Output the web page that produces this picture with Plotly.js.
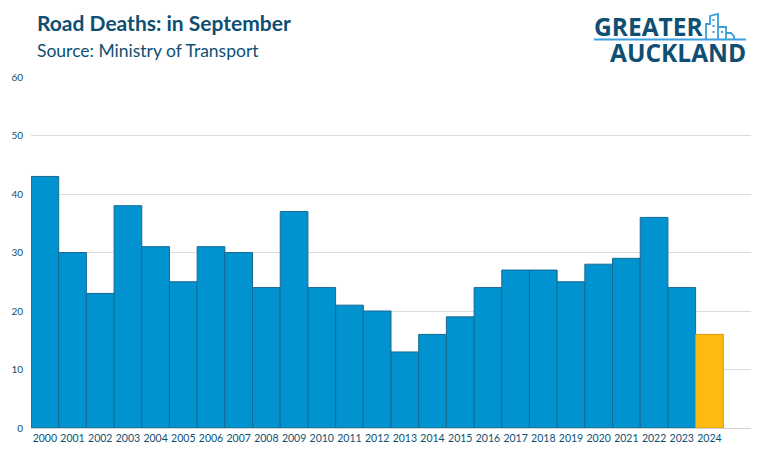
<!DOCTYPE html>
<html><head><meta charset="utf-8">
<script src="https://cdn.plot.ly/plotly-3.0.1.min.js"></script>
<style>html,body{margin:0;padding:0;background:#fff}#c{width:767px;height:459px}</style>
</head><body><div id="c"></div>
<script>
const years = ['2000','2001','2002','2003','2004','2005','2006','2007','2008','2009','2010','2011','2012','2013','2014','2015','2016','2017','2018','2019','2020','2021','2022','2023','2024'];
const deaths = [43,30,23,38,31,25,31,30,24,37,24,21,20,13,16,19,24,27,27,25,28,29,36,24,16];
const yTicks = [0,10,20,30,40,50,60];

const fill = years.map((y,i)=> i===years.length-1 ? '#fdbb12' : '#0093d0');
const edge = years.map((y,i)=> i===years.length-1 ? '#d99a00' : '#16698f');
const dark = '#0e4f72';
const FONT = 'Lato, "Open Sans", sans-serif';

function px(x){ return (x-31)/720; }
function py(y){ return (428-y)/351; }
function pathPx(pts, close){
  return pts.map((p,i)=>(i?'L':'M')+px(p[0]).toFixed(4)+','+py(p[1]).toFixed(4)).join(' ') + (close?' Z':'');
}

const data = [{
  type:'bar', x: years, y: deaths,
  marker:{color: fill, line:{color: edge, width:1}},
  hoverinfo:'x+y'
}];

const layout = {
  width:767, height:459,
  margin:{l:31, r:16, t:77, b:31},
  paper_bgcolor:'#fff', plot_bgcolor:'#fff',
  bargap:0,
  showlegend:false,
  font:{family:FONT, color:dark},
  xaxis:{type:'category', range:[-0.5, 25.5], showgrid:false, zeroline:false,
    showline:true, linecolor:'#d0d0d0', linewidth:1, tickangle:0,
    tickfont:{size:10.5, color:dark}, ticks:'', ticklen:0},
  yaxis:{range:[0,60], tickvals:yTicks, ticktext:yTicks.map(String),
    showgrid:true, gridcolor:'#dcdcdc', gridwidth:1, zeroline:false,
    tickfont:{size:10, color:dark}, ticks:'', ticklabelstandoff:7},
  annotations:[
    {xref:'paper', yref:'paper', x:px(37), xanchor:'left', y:py(22), yanchor:'middle',
     text:'<b>Road Deaths: in September</b>', showarrow:false, borderpad:0,
     font:{size:21, color:dark, family:FONT}, xshift:-1},
    {xref:'paper', yref:'paper', x:px(37), xanchor:'left', y:py(50), yanchor:'middle',
     text:'Source: Ministry of Transport', showarrow:false, borderpad:0,
     font:{size:17.5, color:dark, family:FONT}, xshift:-1},
    {xref:'paper', yref:'paper', x:px(593), xanchor:'left', y:py(27), yanchor:'middle',
     text:'<b>GREATER</b>', showarrow:false, borderpad:0,
     font:{size:24.5, color:dark, family:'"Open Sans", sans-serif'}},
    {xref:'paper', yref:'paper', x:px(747), xanchor:'right', y:py(52.5), yanchor:'middle',
     text:'<b>AUCKLAND</b>', showarrow:false, borderpad:0,
     font:{size:24.5, color:dark, family:'"Open Sans", sans-serif'}}
  ],
  shapes:[
    {type:'line', xref:'paper', yref:'paper', x0:px(594), x1:px(746), y0:py(39.5), y1:py(39.5), line:{color:'#3a9fdc', width:2}},
    {type:'path', xref:'paper', yref:'paper',
     path: pathPx([[706,39],[706,24],[710,24],[710,16],[718,14],[718,39]]),
     line:{color:'#3a9fdc', width:1.8}, fillcolor:'rgba(0,0,0,0)'},
    {type:'path', xref:'paper', yref:'paper',
     path: pathPx([[718,27],[726,27],[726,39]]),
     line:{color:'#3a9fdc', width:1.8}, fillcolor:'rgba(0,0,0,0)'},
    {type:'path', xref:'paper', yref:'paper',
     path: pathPx([[726,33],[731,33],[734,36],[734,39]]),
     line:{color:'#3a9fdc', width:1.8}, fillcolor:'rgba(0,0,0,0)'},
    {type:'rect', xref:'paper', yref:'paper', x0:px(712.5), x1:px(714.5), y0:py(21), y1:py(19), line:{width:0}, fillcolor:'#3a9fdc'},
    {type:'rect', xref:'paper', yref:'paper', x0:px(712.5), x1:px(714.5), y0:py(27), y1:py(25), line:{width:0}, fillcolor:'#3a9fdc'},
    {type:'rect', xref:'paper', yref:'paper', x0:px(712.5), x1:px(714.5), y0:py(33), y1:py(31), line:{width:0}, fillcolor:'#3a9fdc'},
    {type:'rect', xref:'paper', yref:'paper', x0:px(721), x1:px(723), y0:py(33), y1:py(31), line:{width:0}, fillcolor:'#3a9fdc'}
  ]
};
Plotly.newPlot('c', data, layout, {displayModeBar:false, staticPlot:true});
</script></body></html>
